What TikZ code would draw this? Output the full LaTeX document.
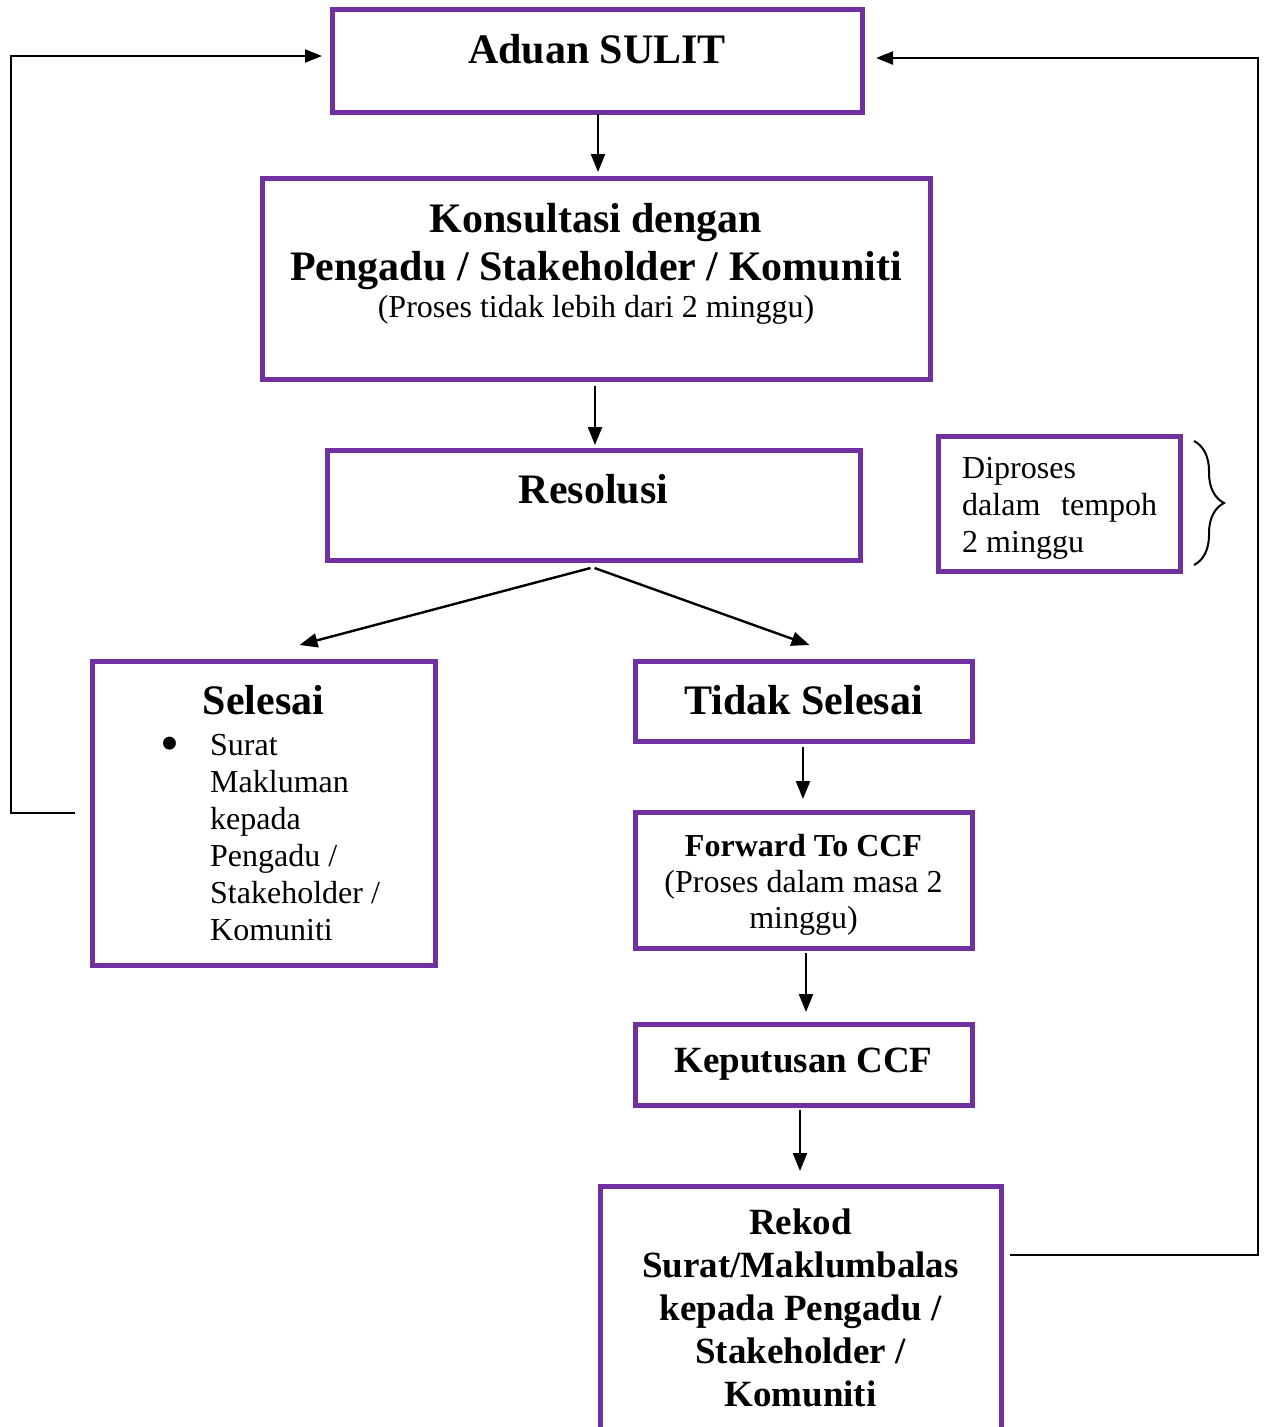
\documentclass[tikz,border=0pt]{standalone}
\usepackage{fontspec}
\setmainfont{Liberation Serif}
\usetikzlibrary{arrows.meta,calc,decorations.pathreplacing}
\definecolor{boxpurple}{HTML}{7030A0}
\tikzset{
  box/.style={draw=boxpurple, line width=5pt, inner sep=0pt, outer sep=0pt, rectangle},
  arr/.style={line width=2.4pt, -{Triangle[length=18pt,width=14pt]}},
  loopline/.style={line width=2.2pt, -{Triangle[length=17pt,width=13pt]}},
  hbig/.style={font=\fontsize{42}{48}\selectfont\bfseries, inner sep=0pt, anchor=base, align=center},
  hmid/.style={font=\fontsize{37}{43}\selectfont\bfseries, inner sep=0pt, anchor=base, align=center},
  hsmall/.style={font=\fontsize{32}{36}\selectfont\bfseries, inner sep=0pt, anchor=base, align=center},
  body/.style={font=\fontsize{32}{36}\selectfont, inner sep=0pt, anchor=base, align=center},
  bodyleft/.style={font=\fontsize{32}{37}\selectfont, inner sep=0pt, anchor=base west, align=flush left},
}
\begin{document}
\begin{tikzpicture}[x=1pt,y=-1pt]
\useasboundingbox (0,0) rectangle (1265,1427);
\clip (0,0) rectangle (1265,1427);

% boxes
\node[box, minimum width=530pt, minimum height=103pt] (aduan) at (597,60.5) {};
\node[box, minimum width=668pt, minimum height=201pt] (kons) at (596,278.5) {};
\node[box, minimum width=533pt, minimum height=110pt] (reso) at (593.5,505) {};
\node[box, minimum width=242pt, minimum height=135pt] (dipro) at (1059,503.5) {};
\node[box, minimum width=343pt, minimum height=304pt] (selesai) at (263.5,813) {};
\node[box, minimum width=337pt, minimum height=80pt] (tidak) at (803.5,701) {};
\node[box, minimum width=337pt, minimum height=136pt] (fwd) at (803.5,880) {};
\node[box, minimum width=337pt, minimum height=81pt] (kep) at (803.5,1064.5) {};
\node[box, minimum width=401pt, minimum height=260pt] (rekod) at (800.5,1316) {};

% texts
\node[hbig] (aduanT) at (597,63) {Aduan SULIT};
\node[hbig] (konsT) at (596,280) {Konsultasi dengan\\Pengadu / Stakeholder / Komuniti};
\node[body] (konsS) at (596,317) {(Proses tidak lebih dari 2 minggu)};
\node[hbig] (resoT) at (593.5,503) {Resolusi};
\node[bodyleft, text width=200pt] (diproT) at (962,478) {Diproses\\\makebox[195pt][l]{dalam\hfill tempoh}\\2 minggu};
\node[hbig] (selesaiT) at (263.5,714) {Selesai};
\node[font=\fontsize{54}{54}\selectfont, inner sep=0pt, anchor=center] (bullet) at (170,749) {\textbullet};
\node[bodyleft, text width=215pt] (selesaiL) at (210,755) {Surat\\Makluman\\kepada\\Pengadu /\\Stakeholder /\\Komuniti};
\node[hbig] (tidakT) at (803.5,714) {Tidak Selesai};
\node[hsmall] (fwdT) at (803.5,856) {Forward To CCF};
\node[body] (fwdS) at (803.5,928) {(Proses dalam masa 2\\minggu)};
\node[hmid] (kepT) at (803.5,1072) {Keputusan CCF};
\node[hmid] (rekodT) at (800.5,1406) {Rekod\\Surat/Maklumbalas\\kepada Pengadu /\\Stakeholder /\\Komuniti};

% connector start points
\coordinate (c1) at ($(aduan.south)+(1,0)$);
\coordinate (c2) at ($(kons.south)+(-1,0)$);
\coordinate (c3) at ($(tidak.south)+(-0.5,0)$);
\coordinate (c4) at ($(fwd.south)+(2.5,0)$);
\coordinate (c5) at ($(kep.south)+(-3.5,0)$);

% connectors
\draw[arr, shorten <=2pt, shorten >=6pt] (c1) -- (c1 |- kons.north);
\draw[arr, shorten <=7pt, shorten >=5pt] (c2) -- (c2 |- reso.north);
\draw[arr] ($(reso.south)+(-3,8)$) -- ($(selesai.north)+(36,-16)$);
\draw[arr] ($(reso.south)+(1,8)$) -- ($(tidak.north)+(6,-16)$);
\draw[arr, shorten <=6pt, shorten >=13pt] (c3) -- (c3 |- fwd.north);
\draw[arr, shorten <=5pt, shorten >=12pt] (c4) -- (c4 |- kep.north);
\draw[arr, shorten <=5pt, shorten >=15pt] (c5) -- (c5 |- rekod.north);

% feedback loops
\coordinate (lstart) at ($(selesai.west)+(-17,0)$);
\coordinate (lend) at ($(aduan.west)+(-10,-4.5)$);
\draw[loopline] (lstart) -- ++(-64,0) |- (lend);
\coordinate (rstart) at ($(rekod.east)+(9,-61)$);
\coordinate (rend) at ($(aduan.east)+(14,-2.5)$);
\draw[loopline] (rstart) -- ++(248,0) |- (rend);

% brace
\draw[line width=2pt, decorate, decoration={brace, amplitude=30pt}] ($(dipro.north east)+(14,5)$) -- ($(dipro.south east)+(14,-6)$);
\end{tikzpicture}
\end{document}
